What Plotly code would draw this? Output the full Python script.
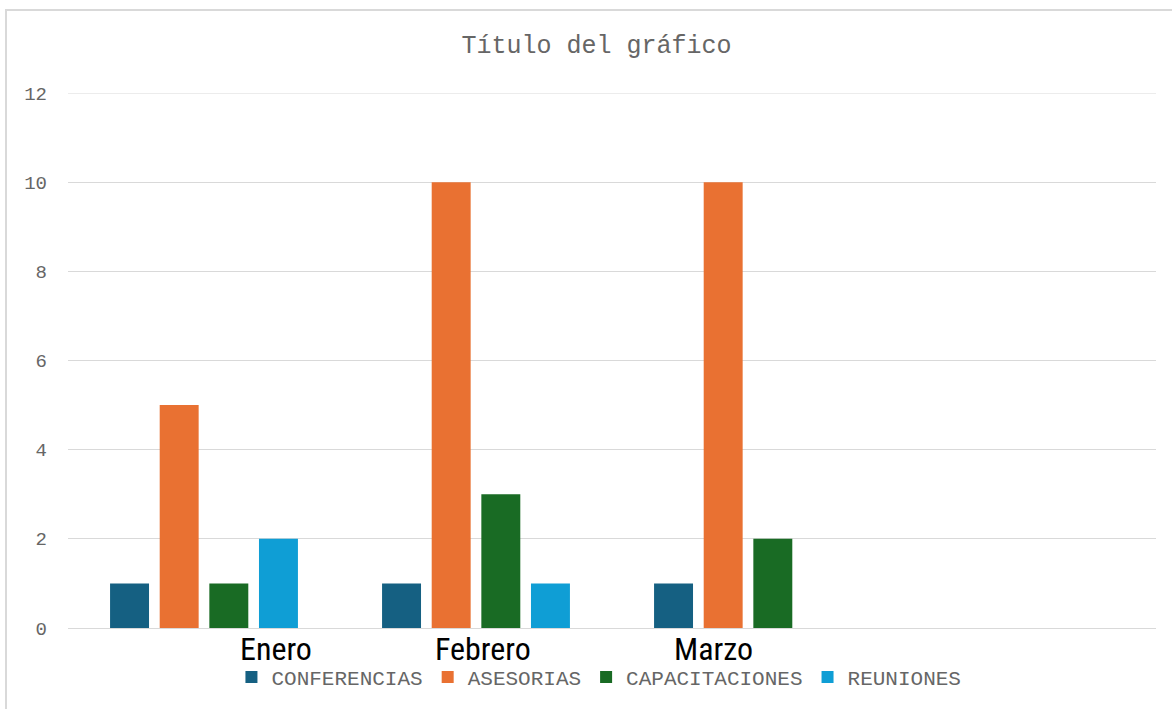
import plotly.graph_objects as go

categories = ["Enero", "Febrero", "Marzo", " "]
series_names = ["CONFERENCIAS", "ASESORIAS", "CAPACITACIONES", "REUNIONES"]
conferencias = [1, 1, 1, None]
asesorias = [5, 10, 10, None]
capacitaciones = [1, 3, 2, None]
reuniones = [2, 1, None, None]
colors = ["#156082", "#E97132", "#196B24", "#0F9ED5"]
y_ticks = [0, 2, 4, 6, 8, 10, 12]
label_shifts = [72, 7, -35]

fig = go.Figure()
for name, vals, col in zip(series_names, [conferencias, asesorias, capacitaciones, reuniones], colors):
    fig.add_trace(go.Bar(x=categories, y=vals, name=name, marker=dict(color=col, line=dict(width=0))))

mono = "Courier New, Liberation Mono, monospace"
fig.update_layout(
    width=1172, height=709,
    margin=dict(l=68, r=16, t=93, b=80),
    paper_bgcolor="white", plot_bgcolor="white",
    barmode="group", bargap=0.27, bargroupgap=0.215,
    title=dict(text="Título del gráfico", x=0.509, xanchor="center", y=0.937, yanchor="middle",
               font=dict(family=mono, size=25, color="#666666")),
    showlegend=True,
    legend=dict(orientation="h", x=0.488, xanchor="center", y=-0.09, yanchor="middle",
                font=dict(family=mono, size=21, color="#666666"), itemwidth=30,
                traceorder="normal"),
    xaxis=dict(showticklabels=False, showgrid=False, showline=True, linecolor="#d9d9d9",
               linewidth=1, ticks="", categoryorder="array", categoryarray=categories),
    yaxis=dict(range=[0, 12], tickvals=y_ticks, showgrid=True, gridcolor="#d9d9d9",
               zeroline=False, ticks="", tickfont=dict(family=mono, size=19, color="#666666"),
               ticklabelstandoff=20),
)

# top gridline (plotly omits gridline at range edge)
fig.add_shape(type="line", xref="paper", yref="y", x0=0, x1=1, y0=y_ticks[-1], y1=y_ticks[-1],
              line=dict(color="#d9d9d9", width=1), layer="below")

for cat, shift in zip(categories[:3], label_shifts):
    fig.add_annotation(x=cat, y=0, xref="x", yref="y", text=cat, showarrow=False,
                       xshift=shift, yshift=-21, yanchor="middle",
                       font=dict(family="Liberation Sans Narrow, Arial Narrow, Roboto Condensed, Liberation Sans, sans-serif",
                                 size=32, color="black"))

fig.add_shape(type="rect", xref="paper", yref="paper", x0=-0.057, x1=1.03, y0=-0.2, y1=1.155,
              line=dict(color="#d9d9d9", width=2), layer="below")

fig.write_html("out.html", config={"displayModeBar": False},
               post_script="document.body.style.margin='0';")
